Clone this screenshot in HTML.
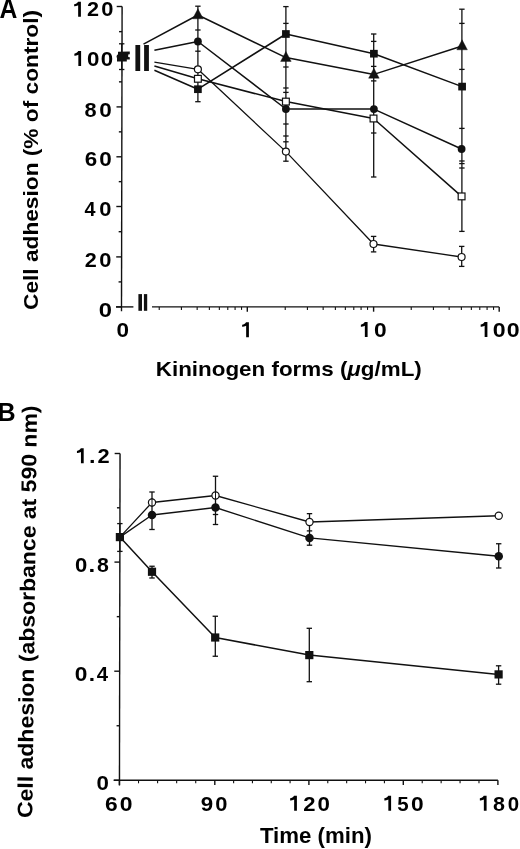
<!DOCTYPE html>
<html><head><meta charset="utf-8"><style>
html,body{margin:0;padding:0;background:#fff;overflow:hidden;}
svg{display:block;will-change:transform;}
</style></head><body>
<svg width="520" height="849" viewBox="0 0 520 849">
<rect width="520" height="849" fill="#fff"/>
<line x1="122.10" y1="6.50" x2="121.50" y2="311.20" stroke="#111" stroke-width="1.4"/>
<line x1="116.70" y1="6.50" x2="122.10" y2="6.50" stroke="#111" stroke-width="1.4"/>
<line x1="116.60" y1="56.80" x2="122.00" y2="56.80" stroke="#111" stroke-width="1.4"/>
<line x1="116.50" y1="106.90" x2="121.90" y2="106.90" stroke="#111" stroke-width="1.4"/>
<line x1="116.40" y1="156.80" x2="121.80" y2="156.80" stroke="#111" stroke-width="1.4"/>
<line x1="116.31" y1="206.50" x2="121.71" y2="206.50" stroke="#111" stroke-width="1.4"/>
<line x1="116.21" y1="256.90" x2="121.61" y2="256.90" stroke="#111" stroke-width="1.4"/>
<line x1="116.11" y1="306.90" x2="121.51" y2="306.90" stroke="#111" stroke-width="1.4"/>
<line x1="118.56" y1="281.90" x2="121.56" y2="281.90" stroke="#111" stroke-width="1.4"/>
<line x1="118.66" y1="231.70" x2="121.66" y2="231.70" stroke="#111" stroke-width="1.4"/>
<line x1="118.76" y1="181.65" x2="121.76" y2="181.65" stroke="#111" stroke-width="1.4"/>
<line x1="118.85" y1="131.85" x2="121.85" y2="131.85" stroke="#111" stroke-width="1.4"/>
<line x1="118.95" y1="81.85" x2="121.95" y2="81.85" stroke="#111" stroke-width="1.4"/>
<line x1="119.05" y1="31.65" x2="122.05" y2="31.65" stroke="#111" stroke-width="1.4"/>
<line x1="116.00" y1="306.90" x2="133.40" y2="306.90" stroke="#111" stroke-width="1.4"/>
<line x1="152.00" y1="306.90" x2="499.20" y2="306.90" stroke="#111" stroke-width="1.4"/>
<line x1="159.23" y1="306.90" x2="159.23" y2="309.90" stroke="#111" stroke-width="1.1"/>
<line x1="181.42" y1="306.90" x2="181.42" y2="309.90" stroke="#111" stroke-width="1.1"/>
<line x1="197.16" y1="306.90" x2="197.16" y2="309.90" stroke="#111" stroke-width="1.1"/>
<line x1="209.37" y1="306.90" x2="209.37" y2="309.90" stroke="#111" stroke-width="1.1"/>
<line x1="219.35" y1="306.90" x2="219.35" y2="309.90" stroke="#111" stroke-width="1.1"/>
<line x1="227.78" y1="306.90" x2="227.78" y2="309.90" stroke="#111" stroke-width="1.1"/>
<line x1="235.09" y1="306.90" x2="235.09" y2="309.90" stroke="#111" stroke-width="1.1"/>
<line x1="241.53" y1="306.90" x2="241.53" y2="309.90" stroke="#111" stroke-width="1.1"/>
<line x1="285.23" y1="306.90" x2="285.23" y2="309.90" stroke="#111" stroke-width="1.1"/>
<line x1="307.42" y1="306.90" x2="307.42" y2="309.90" stroke="#111" stroke-width="1.1"/>
<line x1="323.16" y1="306.90" x2="323.16" y2="309.90" stroke="#111" stroke-width="1.1"/>
<line x1="335.37" y1="306.90" x2="335.37" y2="309.90" stroke="#111" stroke-width="1.1"/>
<line x1="345.35" y1="306.90" x2="345.35" y2="309.90" stroke="#111" stroke-width="1.1"/>
<line x1="353.78" y1="306.90" x2="353.78" y2="309.90" stroke="#111" stroke-width="1.1"/>
<line x1="361.09" y1="306.90" x2="361.09" y2="309.90" stroke="#111" stroke-width="1.1"/>
<line x1="367.53" y1="306.90" x2="367.53" y2="309.90" stroke="#111" stroke-width="1.1"/>
<line x1="411.23" y1="306.90" x2="411.23" y2="309.90" stroke="#111" stroke-width="1.1"/>
<line x1="433.42" y1="306.90" x2="433.42" y2="309.90" stroke="#111" stroke-width="1.1"/>
<line x1="449.16" y1="306.90" x2="449.16" y2="309.90" stroke="#111" stroke-width="1.1"/>
<line x1="461.37" y1="306.90" x2="461.37" y2="309.90" stroke="#111" stroke-width="1.1"/>
<line x1="471.35" y1="306.90" x2="471.35" y2="309.90" stroke="#111" stroke-width="1.1"/>
<line x1="479.78" y1="306.90" x2="479.78" y2="309.90" stroke="#111" stroke-width="1.1"/>
<line x1="487.09" y1="306.90" x2="487.09" y2="309.90" stroke="#111" stroke-width="1.1"/>
<line x1="493.53" y1="306.90" x2="493.53" y2="309.90" stroke="#111" stroke-width="1.1"/>
<line x1="247.30" y1="306.90" x2="247.30" y2="311.70" stroke="#111" stroke-width="1.4"/>
<line x1="373.60" y1="306.90" x2="373.60" y2="311.70" stroke="#111" stroke-width="1.4"/>
<line x1="499.20" y1="306.90" x2="499.20" y2="311.70" stroke="#111" stroke-width="1.4"/>
<rect x="138.4" y="294.1" width="3.6" height="16.7" fill="#111"/>
<rect x="143.9" y="294.1" width="3.3" height="16.7" fill="#111"/>
<rect x="135.4" y="45" width="4.8" height="26" fill="#111"/>
<rect x="144.1" y="45" width="4.8" height="26" fill="#111"/>
<line x1="121.70" y1="43.80" x2="121.70" y2="69.50" stroke="#111" stroke-width="1.3"/>
<line x1="119.00" y1="43.80" x2="124.40" y2="43.80" stroke="#111" stroke-width="1.3"/>
<line x1="119.00" y1="69.50" x2="124.40" y2="69.50" stroke="#111" stroke-width="1.3"/>
<line x1="197.90" y1="6.20" x2="197.90" y2="101.70" stroke="#111" stroke-width="1.3"/>
<line x1="195.20" y1="6.20" x2="200.60" y2="6.20" stroke="#111" stroke-width="1.3"/>
<line x1="195.20" y1="30.00" x2="200.60" y2="30.00" stroke="#111" stroke-width="1.3"/>
<line x1="195.20" y1="51.20" x2="200.60" y2="51.20" stroke="#111" stroke-width="1.3"/>
<line x1="195.20" y1="101.70" x2="200.60" y2="101.70" stroke="#111" stroke-width="1.3"/>
<line x1="285.90" y1="6.60" x2="285.90" y2="161.20" stroke="#111" stroke-width="1.3"/>
<line x1="283.20" y1="6.60" x2="288.60" y2="6.60" stroke="#111" stroke-width="1.3"/>
<line x1="283.20" y1="23.40" x2="288.60" y2="23.40" stroke="#111" stroke-width="1.3"/>
<line x1="283.20" y1="67.00" x2="288.60" y2="67.00" stroke="#111" stroke-width="1.3"/>
<line x1="283.20" y1="88.00" x2="288.60" y2="88.00" stroke="#111" stroke-width="1.3"/>
<line x1="283.20" y1="92.40" x2="288.60" y2="92.40" stroke="#111" stroke-width="1.3"/>
<line x1="283.20" y1="124.00" x2="288.60" y2="124.00" stroke="#111" stroke-width="1.3"/>
<line x1="283.20" y1="136.00" x2="288.60" y2="136.00" stroke="#111" stroke-width="1.3"/>
<line x1="283.20" y1="141.80" x2="288.60" y2="141.80" stroke="#111" stroke-width="1.3"/>
<line x1="283.20" y1="161.20" x2="288.60" y2="161.20" stroke="#111" stroke-width="1.3"/>
<line x1="373.70" y1="34.00" x2="373.70" y2="177.00" stroke="#111" stroke-width="1.3"/>
<line x1="371.00" y1="34.00" x2="376.40" y2="34.00" stroke="#111" stroke-width="1.3"/>
<line x1="371.00" y1="41.40" x2="376.40" y2="41.40" stroke="#111" stroke-width="1.3"/>
<line x1="371.00" y1="66.40" x2="376.40" y2="66.40" stroke="#111" stroke-width="1.3"/>
<line x1="371.00" y1="80.90" x2="376.40" y2="80.90" stroke="#111" stroke-width="1.3"/>
<line x1="371.00" y1="133.00" x2="376.40" y2="133.00" stroke="#111" stroke-width="1.3"/>
<line x1="371.00" y1="177.00" x2="376.40" y2="177.00" stroke="#111" stroke-width="1.3"/>
<line x1="373.60" y1="236.40" x2="373.60" y2="251.90" stroke="#111" stroke-width="1.3"/>
<line x1="370.90" y1="236.40" x2="376.30" y2="236.40" stroke="#111" stroke-width="1.3"/>
<line x1="370.90" y1="251.90" x2="376.30" y2="251.90" stroke="#111" stroke-width="1.3"/>
<line x1="461.90" y1="9.20" x2="461.90" y2="231.40" stroke="#111" stroke-width="1.3"/>
<line x1="459.20" y1="9.20" x2="464.60" y2="9.20" stroke="#111" stroke-width="1.3"/>
<line x1="459.20" y1="23.40" x2="464.60" y2="23.40" stroke="#111" stroke-width="1.3"/>
<line x1="459.20" y1="69.40" x2="464.60" y2="69.40" stroke="#111" stroke-width="1.3"/>
<line x1="459.20" y1="128.40" x2="464.60" y2="128.40" stroke="#111" stroke-width="1.3"/>
<line x1="459.20" y1="161.00" x2="464.60" y2="161.00" stroke="#111" stroke-width="1.3"/>
<line x1="459.20" y1="163.60" x2="464.60" y2="163.60" stroke="#111" stroke-width="1.3"/>
<line x1="459.20" y1="168.00" x2="464.60" y2="168.00" stroke="#111" stroke-width="1.3"/>
<line x1="459.20" y1="231.40" x2="464.60" y2="231.40" stroke="#111" stroke-width="1.3"/>
<line x1="461.70" y1="246.40" x2="461.70" y2="266.40" stroke="#111" stroke-width="1.3"/>
<line x1="459.00" y1="246.40" x2="464.40" y2="246.40" stroke="#111" stroke-width="1.3"/>
<line x1="459.00" y1="266.40" x2="464.40" y2="266.40" stroke="#111" stroke-width="1.3"/>
<polyline points="143.50,44.10 197.90,15.00 285.90,57.60 373.90,74.40 462.10,46.00" fill="none" stroke="#111" stroke-width="1.5" stroke-linejoin="round"/>
<polyline points="154.40,70.20 197.90,89.20 285.90,34.00 373.90,53.70 462.10,86.60" fill="none" stroke="#111" stroke-width="1.5" stroke-linejoin="round"/>
<polyline points="154.40,50.20 197.90,41.50 285.90,109.00 373.90,109.10 461.60,149.00" fill="none" stroke="#111" stroke-width="1.5" stroke-linejoin="round"/>
<polyline points="154.40,66.00 197.90,78.80 285.90,101.60 373.50,118.50 461.60,196.40" fill="none" stroke="#111" stroke-width="1.5" stroke-linejoin="round"/>
<polyline points="154.40,62.10 197.90,69.30 285.90,151.60 373.50,244.00 461.60,257.00" fill="none" stroke="#111" stroke-width="1.3" stroke-linejoin="round"/>
<polygon points="197.90,8.80 203.20,18.80 192.60,18.80" fill="#111" stroke="#111" stroke-width="0.4" stroke-linejoin="round"/>
<polygon points="285.90,51.40 291.20,61.40 280.60,61.40" fill="#111" stroke="#111" stroke-width="0.4" stroke-linejoin="round"/>
<polygon points="373.90,68.20 379.20,78.20 368.60,78.20" fill="#111" stroke="#111" stroke-width="0.4" stroke-linejoin="round"/>
<polygon points="462.10,39.80 467.40,49.80 456.80,49.80" fill="#111" stroke="#111" stroke-width="0.4" stroke-linejoin="round"/>
<rect x="194.05" y="85.35" width="7.7" height="7.7" fill="#111"/>
<rect x="282.05" y="30.15" width="7.7" height="7.7" fill="#111"/>
<rect x="370.05" y="49.85" width="7.7" height="7.7" fill="#111"/>
<rect x="458.25" y="82.75" width="7.7" height="7.7" fill="#111"/>
<circle cx="197.90" cy="41.50" r="3.9" fill="#111"/>
<circle cx="285.90" cy="109.00" r="3.9" fill="#111"/>
<circle cx="373.90" cy="109.10" r="3.9" fill="#111"/>
<circle cx="461.60" cy="149.00" r="3.9" fill="#111"/>
<rect x="194.50" y="75.40" width="6.8" height="6.8" fill="#fff" stroke="#111" stroke-width="1.2"/>
<rect x="282.50" y="98.20" width="6.8" height="6.8" fill="#fff" stroke="#111" stroke-width="1.2"/>
<rect x="370.10" y="115.10" width="6.8" height="6.8" fill="#fff" stroke="#111" stroke-width="1.2"/>
<rect x="458.20" y="193.00" width="6.8" height="6.8" fill="#fff" stroke="#111" stroke-width="1.2"/>
<circle cx="197.90" cy="69.30" r="3.5" fill="#fff" stroke="#111" stroke-width="1.2"/>
<circle cx="285.90" cy="151.60" r="3.5" fill="#fff" stroke="#111" stroke-width="1.2"/>
<circle cx="373.50" cy="244.00" r="3.5" fill="#fff" stroke="#111" stroke-width="1.2"/>
<circle cx="461.60" cy="257.00" r="3.5" fill="#fff" stroke="#111" stroke-width="1.2"/>
<polygon points="118,51.8 129.8,51.5 129.8,54.2 128.2,54.5 128.2,57 129.8,57.2 129.8,59.5 126.8,59.6 126.8,61.4 117,61.4 117,57.5 116.8,55 118,54.5" fill="#111"/>
<line x1="120.05" y1="453.50" x2="119.45" y2="785.40" stroke="#111" stroke-width="1.4"/>
<line x1="114.65" y1="453.50" x2="120.05" y2="453.50" stroke="#111" stroke-width="1.4"/>
<line x1="114.45" y1="562.10" x2="119.85" y2="562.10" stroke="#111" stroke-width="1.4"/>
<line x1="114.26" y1="671.20" x2="119.66" y2="671.20" stroke="#111" stroke-width="1.4"/>
<line x1="114.06" y1="780.30" x2="119.46" y2="780.30" stroke="#111" stroke-width="1.4"/>
<line x1="116.95" y1="507.80" x2="119.95" y2="507.80" stroke="#111" stroke-width="1.4"/>
<line x1="116.76" y1="616.65" x2="119.76" y2="616.65" stroke="#111" stroke-width="1.4"/>
<line x1="116.56" y1="725.75" x2="119.56" y2="725.75" stroke="#111" stroke-width="1.4"/>
<line x1="113.60" y1="780.30" x2="497.90" y2="780.30" stroke="#111" stroke-width="1.4"/>
<line x1="119.45" y1="780.30" x2="119.45" y2="785.10" stroke="#111" stroke-width="1.4"/>
<line x1="214.80" y1="780.30" x2="214.80" y2="785.10" stroke="#111" stroke-width="1.4"/>
<line x1="308.90" y1="780.30" x2="308.90" y2="785.10" stroke="#111" stroke-width="1.4"/>
<line x1="403.30" y1="780.30" x2="403.30" y2="785.10" stroke="#111" stroke-width="1.4"/>
<line x1="497.90" y1="780.30" x2="497.90" y2="785.10" stroke="#111" stroke-width="1.4"/>
<line x1="138.52" y1="780.30" x2="138.52" y2="783.30" stroke="#111" stroke-width="1.1"/>
<line x1="157.59" y1="780.30" x2="157.59" y2="783.30" stroke="#111" stroke-width="1.1"/>
<line x1="176.66" y1="780.30" x2="176.66" y2="783.30" stroke="#111" stroke-width="1.1"/>
<line x1="195.73" y1="780.30" x2="195.73" y2="783.30" stroke="#111" stroke-width="1.1"/>
<line x1="233.62" y1="780.30" x2="233.62" y2="783.30" stroke="#111" stroke-width="1.1"/>
<line x1="252.44" y1="780.30" x2="252.44" y2="783.30" stroke="#111" stroke-width="1.1"/>
<line x1="271.26" y1="780.30" x2="271.26" y2="783.30" stroke="#111" stroke-width="1.1"/>
<line x1="290.08" y1="780.30" x2="290.08" y2="783.30" stroke="#111" stroke-width="1.1"/>
<line x1="327.78" y1="780.30" x2="327.78" y2="783.30" stroke="#111" stroke-width="1.1"/>
<line x1="346.66" y1="780.30" x2="346.66" y2="783.30" stroke="#111" stroke-width="1.1"/>
<line x1="365.54" y1="780.30" x2="365.54" y2="783.30" stroke="#111" stroke-width="1.1"/>
<line x1="384.42" y1="780.30" x2="384.42" y2="783.30" stroke="#111" stroke-width="1.1"/>
<line x1="422.22" y1="780.30" x2="422.22" y2="783.30" stroke="#111" stroke-width="1.1"/>
<line x1="441.14" y1="780.30" x2="441.14" y2="783.30" stroke="#111" stroke-width="1.1"/>
<line x1="460.06" y1="780.30" x2="460.06" y2="783.30" stroke="#111" stroke-width="1.1"/>
<line x1="478.98" y1="780.30" x2="478.98" y2="783.30" stroke="#111" stroke-width="1.1"/>
<line x1="119.85" y1="523.60" x2="119.85" y2="551.40" stroke="#111" stroke-width="1.3"/>
<line x1="117.15" y1="523.60" x2="122.55" y2="523.60" stroke="#111" stroke-width="1.3"/>
<line x1="117.15" y1="551.40" x2="122.55" y2="551.40" stroke="#111" stroke-width="1.3"/>
<line x1="152.00" y1="492.00" x2="152.00" y2="529.50" stroke="#111" stroke-width="1.3"/>
<line x1="149.30" y1="492.00" x2="154.70" y2="492.00" stroke="#111" stroke-width="1.3"/>
<line x1="149.30" y1="529.50" x2="154.70" y2="529.50" stroke="#111" stroke-width="1.3"/>
<line x1="152.00" y1="566.25" x2="152.00" y2="578.00" stroke="#111" stroke-width="1.3"/>
<line x1="149.30" y1="566.25" x2="154.70" y2="566.25" stroke="#111" stroke-width="1.3"/>
<line x1="149.30" y1="578.00" x2="154.70" y2="578.00" stroke="#111" stroke-width="1.3"/>
<line x1="215.50" y1="476.25" x2="215.50" y2="524.50" stroke="#111" stroke-width="1.3"/>
<line x1="212.80" y1="476.25" x2="218.20" y2="476.25" stroke="#111" stroke-width="1.3"/>
<line x1="212.80" y1="514.50" x2="218.20" y2="514.50" stroke="#111" stroke-width="1.3"/>
<line x1="212.80" y1="524.50" x2="218.20" y2="524.50" stroke="#111" stroke-width="1.3"/>
<line x1="215.30" y1="616.25" x2="215.30" y2="656.25" stroke="#111" stroke-width="1.3"/>
<line x1="212.60" y1="616.25" x2="218.00" y2="616.25" stroke="#111" stroke-width="1.3"/>
<line x1="212.60" y1="656.25" x2="218.00" y2="656.25" stroke="#111" stroke-width="1.3"/>
<line x1="309.50" y1="513.65" x2="309.50" y2="545.20" stroke="#111" stroke-width="1.3"/>
<line x1="306.80" y1="513.65" x2="312.20" y2="513.65" stroke="#111" stroke-width="1.3"/>
<line x1="306.80" y1="530.90" x2="312.20" y2="530.90" stroke="#111" stroke-width="1.3"/>
<line x1="306.80" y1="545.20" x2="312.20" y2="545.20" stroke="#111" stroke-width="1.3"/>
<line x1="309.30" y1="628.30" x2="309.30" y2="681.70" stroke="#111" stroke-width="1.3"/>
<line x1="306.60" y1="628.30" x2="312.00" y2="628.30" stroke="#111" stroke-width="1.3"/>
<line x1="306.60" y1="681.70" x2="312.00" y2="681.70" stroke="#111" stroke-width="1.3"/>
<line x1="498.70" y1="543.75" x2="498.70" y2="568.00" stroke="#111" stroke-width="1.3"/>
<line x1="496.00" y1="543.75" x2="501.40" y2="543.75" stroke="#111" stroke-width="1.3"/>
<line x1="496.00" y1="568.00" x2="501.40" y2="568.00" stroke="#111" stroke-width="1.3"/>
<line x1="498.60" y1="665.80" x2="498.60" y2="684.20" stroke="#111" stroke-width="1.3"/>
<line x1="495.90" y1="665.80" x2="501.30" y2="665.80" stroke="#111" stroke-width="1.3"/>
<line x1="495.90" y1="684.20" x2="501.30" y2="684.20" stroke="#111" stroke-width="1.3"/>
<polyline points="119.90,537.10 152.00,502.50 215.50,495.50 309.50,522.00 498.75,515.75" fill="none" stroke="#111" stroke-width="1.3" stroke-linejoin="round"/>
<polyline points="119.90,537.10 152.00,515.00 215.50,507.50 309.50,537.90 498.75,556.25" fill="none" stroke="#111" stroke-width="1.35" stroke-linejoin="round"/>
<polyline points="119.90,537.10 152.00,571.75 215.20,637.50 309.30,655.10 498.60,674.40" fill="none" stroke="#111" stroke-width="1.5" stroke-linejoin="round"/>
<circle cx="152.00" cy="502.50" r="3.6" fill="#fff" stroke="#111" stroke-width="1.2"/>
<line x1="152.00" y1="498.20" x2="152.00" y2="506.80" stroke="#111" stroke-width="1.0"/>
<circle cx="215.50" cy="495.50" r="3.6" fill="#fff" stroke="#111" stroke-width="1.2"/>
<line x1="215.50" y1="491.20" x2="215.50" y2="499.80" stroke="#111" stroke-width="1.0"/>
<circle cx="309.50" cy="522.00" r="3.6" fill="#fff" stroke="#111" stroke-width="1.2"/>
<circle cx="498.75" cy="515.75" r="3.6" fill="#fff" stroke="#111" stroke-width="1.2"/>
<circle cx="152.00" cy="515.00" r="4.25" fill="#111"/>
<circle cx="215.50" cy="507.50" r="4.25" fill="#111"/>
<circle cx="309.50" cy="537.90" r="4.25" fill="#111"/>
<circle cx="498.75" cy="556.25" r="4.25" fill="#111"/>
<rect x="115.80" y="533.00" width="8.2" height="8.2" fill="#111"/>
<rect x="147.90" y="567.65" width="8.2" height="8.2" fill="#111"/>
<rect x="211.10" y="633.40" width="8.2" height="8.2" fill="#111"/>
<rect x="305.20" y="651.00" width="8.2" height="8.2" fill="#111"/>
<rect x="494.50" y="670.30" width="8.2" height="8.2" fill="#111"/>
<g font-family='"Liberation Sans", sans-serif' font-weight="bold" fill="#000">
<path d="M80.90,1.65 L80.90,16.65 L78.15,16.65 L78.15,5.35 C76.65,6.05 75.15,6.25 74.15,6.35 L74.15,4.25 C75.75,3.95 77.25,2.95 78.05,1.65 Z"/>
<text transform="matrix(1.0296 0 0 1 87.04 16.45)" font-size="21.0">2</text>
<text transform="matrix(1.0426 0 0 1 101.22 16.45)" font-size="21.0">0</text>
<path d="M81.10,51.05 L81.10,66.05 L78.35,66.05 L78.35,54.75 C76.85,55.45 75.35,55.65 74.35,55.75 L74.35,53.65 C75.95,53.35 77.45,52.35 78.25,51.05 Z"/>
<text transform="matrix(1.0627 0 0 1 86.91 65.85)" font-size="21.0">0</text>
<text transform="matrix(1.0627 0 0 1 100.81 65.85)" font-size="21.0">0</text>
<text transform="matrix(1.0335 0 0 1 84.51 116.65)" font-size="21.0">8</text>
<text transform="matrix(1.0727 0 0 1 99.20 116.65)" font-size="21.0">0</text>
<text transform="matrix(1.0648 0 0 1 84.67 166.35)" font-size="21.0">6</text>
<text transform="matrix(1.0727 0 0 1 99.20 166.35)" font-size="21.0">0</text>
<text transform="matrix(0.9417 0 0 1 84.50 216.45)" font-size="21.0">4</text>
<text transform="matrix(1.0426 0 0 1 99.22 216.45)" font-size="21.0">0</text>
<text transform="matrix(1.0296 0 0 1 84.64 266.85)" font-size="21.0">2</text>
<text transform="matrix(1.0426 0 0 1 99.22 266.85)" font-size="21.0">0</text>
<text transform="matrix(1.1328 0 0 1 98.65 316.75)" font-size="21.0">0</text>
<text transform="matrix(1.0727 0 0 1 116.60 336.95)" font-size="21.0">0</text>
<path d="M248.90,322.15 L248.90,337.15 L246.15,337.15 L246.15,325.85 C244.65,326.55 243.15,326.75 242.15,326.85 L242.15,324.75 C243.75,324.45 245.25,323.45 246.05,322.15 Z"/>
<path d="M367.60,322.05 L367.60,337.05 L364.85,337.05 L364.85,325.75 C363.35,326.45 361.85,326.65 360.85,326.75 L360.85,324.65 C362.45,324.35 363.95,323.35 364.75,322.05 Z"/>
<text transform="matrix(1.0827 0 0 1 374.09 336.85)" font-size="21.0">0</text>
<path d="M487.40,321.95 L487.40,336.95 L484.65,336.95 L484.65,325.65 C483.15,326.35 481.65,326.55 480.65,326.65 L480.65,324.55 C482.25,324.25 483.75,323.25 484.55,321.95 Z"/>
<text transform="matrix(1.1028 0 0 1 492.87 336.75)" font-size="21.0">0</text>
<text transform="matrix(1.1028 0 0 1 506.77 336.75)" font-size="21.0">0</text>
<path d="M83.70,448.35 L83.70,463.35 L80.95,463.35 L80.95,452.05 C79.45,452.75 77.95,452.95 76.95,453.05 L76.95,450.95 C78.55,450.65 80.05,449.65 80.85,448.35 Z"/>
<text transform="matrix(1.1145 0 0 1 89.11 463.15)" font-size="21.0">.</text>
<text transform="matrix(1.0395 0 0 1 97.54 463.15)" font-size="21.0">2</text>
<text transform="matrix(1.0526 0 0 1 75.12 571.75)" font-size="21.0">0</text>
<text transform="matrix(1.1483 0 0 1 88.56 571.75)" font-size="21.0">.</text>
<text transform="matrix(1.0142 0 0 1 97.12 571.75)" font-size="21.0">8</text>
<text transform="matrix(1.0827 0 0 1 74.69 681.05)" font-size="21.0">0</text>
<text transform="matrix(1.0807 0 0 1 88.66 681.05)" font-size="21.0">.</text>
<text transform="matrix(0.9684 0 0 1 96.69 681.05)" font-size="21.0">4</text>
<text transform="matrix(1.0627 0 0 1 96.61 790.05)" font-size="21.0">0</text>
<text transform="matrix(1.0845 0 0 1 105.06 810.55)" font-size="21.0">6</text>
<text transform="matrix(1.0927 0 0 1 119.68 810.55)" font-size="21.0">0</text>
<text transform="matrix(1.0626 0 0 1 200.72 810.55)" font-size="21.0">9</text>
<text transform="matrix(1.0426 0 0 1 215.22 810.55)" font-size="21.0">0</text>
<path d="M296.90,795.75 L296.90,810.75 L294.15,810.75 L294.15,799.45 C292.65,800.15 291.15,800.35 290.15,800.45 L290.15,798.35 C291.75,798.05 293.25,797.05 294.05,795.75 Z"/>
<text transform="matrix(1.0494 0 0 1 303.23 810.55)" font-size="21.0">2</text>
<text transform="matrix(1.0627 0 0 1 317.41 810.55)" font-size="21.0">0</text>
<path d="M391.10,795.75 L391.10,810.75 L388.35,810.75 L388.35,799.45 C386.85,800.15 385.35,800.35 384.35,800.45 L384.35,798.35 C385.95,798.05 387.45,797.05 388.25,795.75 Z"/>
<text transform="matrix(0.9773 0 0 1 397.36 810.55)" font-size="21.0">5</text>
<text transform="matrix(1.0827 0 0 1 410.99 810.55)" font-size="21.0">0</text>
<path d="M486.60,795.75 L486.60,810.75 L483.85,810.75 L483.85,799.45 C482.35,800.15 480.85,800.35 479.85,800.45 L479.85,798.35 C481.45,798.05 482.95,797.05 483.75,795.75 Z"/>
<text transform="matrix(1.0239 0 0 1 493.01 810.55)" font-size="21.0">8</text>
<text transform="matrix(0.9724 0 0 1 507.68 810.55)" font-size="21.0">0</text>
<text x="155.8" y="375.8" font-size="21" textLength="266" lengthAdjust="spacingAndGlyphs">Kininogen forms (<tspan font-style="italic">&#956;</tspan>g/mL)</text>
<text x="259.9" y="842.5" font-size="21.5" textLength="112" lengthAdjust="spacingAndGlyphs">Time (min)</text>
<text transform="matrix(0.915 0 0 1 -0.45 17.8)" font-size="27">A</text>
<text transform="matrix(0.985 0 0 1 -2.45 421.2)" font-size="25.5">B</text>
<text transform="translate(37.6,310.0) rotate(-90)" font-size="21" textLength="300" lengthAdjust="spacingAndGlyphs">Cell adhesion (% of control)</text>
<text transform="translate(32.3,818.0) rotate(-89.34)" font-size="21.2" textLength="412.5" lengthAdjust="spacingAndGlyphs">Cell adhesion (absorbance at 590 nm)</text>
</g>
</svg>
</body></html>
